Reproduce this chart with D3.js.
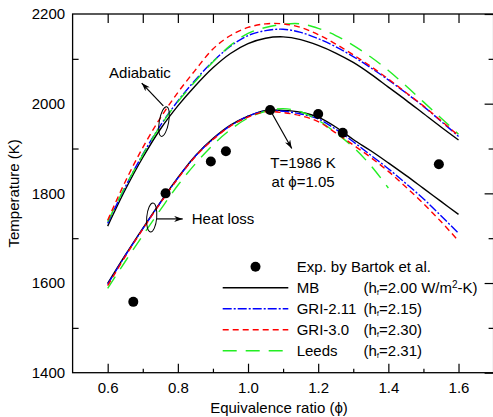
<!DOCTYPE html>
<html>
<head>
<meta charset="utf-8">
<script src="https://cdn.jsdelivr.net/npm/d3@7"></script>
<style>
  body { margin: 0; background: #fff; }
  svg { display: block; font-family: "Liberation Sans", Arial, sans-serif; }
</style>
</head>
<body>
<div id="chart"></div>
<script>
// equivalence ratio grid of the computed curves
var phi = [0.6, 0.65, 0.7, 0.75, 0.8, 0.85, 0.9, 0.95, 1.0, 1.05, 1.1, 1.15, 1.2, 1.25, 1.3, 1.35, 1.4, 1.45, 1.5, 1.55, 1.6];
var phiLeedsLoss = [0.6, 0.65, 0.7, 0.75, 0.8, 0.85, 0.9, 0.95, 1.0, 1.05, 1.1, 1.15, 1.2, 1.25, 1.3, 1.35, 1.4];

// adiabatic flame temperature (K)
var adiMB      = [1727, 1808, 1880, 1943, 1995, 2040, 2080, 2112, 2134, 2146, 2149, 2143, 2130, 2113, 2092, 2066, 2037, 2008, 1978, 1948, 1919];
var adiGRI211  = [1733, 1814, 1887, 1951, 2006, 2053, 2094, 2128, 2152, 2163, 2166, 2159, 2145, 2127, 2105, 2080, 2053, 2024, 1994, 1961, 1927];
var adiGRI30   = [1740, 1826, 1902, 1968, 2025, 2075, 2122, 2152, 2170, 2178, 2178, 2170, 2154, 2133, 2109, 2083, 2055, 2025, 1995, 1962, 1929];
var adiLeeds   = [1737, 1815, 1886, 1950, 2004, 2050, 2093, 2130, 2157, 2170, 2177, 2178, 2168, 2152, 2130, 2104, 2074, 2040, 2004, 1968, 1932];

// with heat loss (K)
var lossMB     = [1599, 1662, 1722, 1780, 1835, 1884, 1922, 1952, 1972, 1985, 1985, 1981, 1970, 1948, 1920, 1895, 1868, 1840, 1811, 1782, 1753];
var lossGRI211 = [1597, 1661, 1721, 1779, 1834, 1883, 1921, 1951, 1972, 1984, 1983, 1977, 1966, 1943, 1915, 1885, 1855, 1822, 1788, 1750, 1711];
var lossGRI30  = [1594, 1659, 1720, 1778, 1833, 1882, 1920, 1950, 1970, 1982, 1980, 1973, 1960, 1935, 1908, 1880, 1849, 1814, 1777, 1737, 1694];
var lossLeeds  = [1588, 1648, 1706, 1763, 1818, 1866, 1908, 1942, 1968, 1983, 1989, 1982, 1963, 1935, 1903, 1862, 1812];

// experiment (Bartok et al.)
var expPhi = [0.673, 0.765, 0.894, 0.937, 1.063, 1.200, 1.270, 1.544];
var expT   = [1558, 1800, 1871, 1894, 1986, 1977, 1935, 1865];

// ticks
var xMajor = [0.6, 0.8, 1.0, 1.2, 1.4, 1.6];
var xMinor = [0.7, 0.9, 1.1, 1.3, 1.5];
var xAll   = [0.6, 0.7, 0.8, 0.9, 1.0, 1.1, 1.2, 1.3, 1.4, 1.5, 1.6];
var yMajor = [1400, 1600, 1800, 2000, 2200];
var yMinor = [1500, 1700, 1900, 2100];

var series = [
  { name: "MB",       param: "=2.00 W/m", unit: true,  color: "#000000", dash: null,        adi: adiMB,     loss: lossMB,     lossPhi: phi },
  { name: "GRI-2.11", param: "=2.15",     unit: false, color: "#0000ff", dash: "9,2,2,2",   adi: adiGRI211, loss: lossGRI211, lossPhi: phi },
  { name: "GRI-3.0",  param: "=2.30",     unit: false, color: "#ff0000", dash: "6,4",       adi: adiGRI30,  loss: lossGRI30,  lossPhi: phi },
  { name: "Leeds",    param: "=2.31",     unit: false, color: "#22ee22", dash: "14,9",      adi: adiLeeds,  loss: lossLeeds,  lossPhi: phiLeedsLoss }
];

var width = 493, height = 417;

var svg = d3.select("#chart").append("svg")
  .attr("width", width)
  .attr("height", height);

var x = d3.scaleLinear().domain([0.5, 1.7]).range([72.6, 493.6]);
var y = d3.scaleLinear().domain([1400, 2200]).range([372.7, 14]);

var defs = svg.append("defs");
defs.append("marker")
  .attr("id", "head")
  .attr("viewBox", "0 0 10 7")
  .attr("refX", 10).attr("refY", 3.5)
  .attr("markerUnits", "userSpaceOnUse")
  .attr("markerWidth", 9).attr("markerHeight", 6)
  .attr("orient", "auto")
  .append("path")
  .attr("d", "M0,0 L10,3.5 L0,7 L3,3.5 z")
  .attr("fill", "#000");

// axes
function styleAxis(g) {
  g.select(".domain").remove();
  g.selectAll("line").attr("stroke", "#000").attr("stroke-width", 1.2);
  g.selectAll("text").attr("font-size", 15).attr("font-family", "Liberation Sans, Arial, sans-serif").attr("fill", "#000");
}

svg.append("g").attr("transform", "translate(0," + y(1400) + ")")
  .call(d3.axisBottom(x).tickValues(xMajor).tickSize(-9).tickPadding(9.5).tickFormat(d3.format(".1f")))
  .call(styleAxis);
svg.append("g").attr("transform", "translate(0," + y(1400) + ")")
  .call(d3.axisBottom(x).tickValues(xMinor).tickSize(-4).tickFormat(""))
  .call(styleAxis);
svg.append("g").attr("transform", "translate(0," + y(2200) + ")")
  .call(d3.axisTop(x).tickValues(xAll).tickSize(-9).tickFormat(""))
  .call(styleAxis);
svg.append("g").attr("transform", "translate(" + x(0.5) + ",0)")
  .call(d3.axisLeft(y).tickValues(yMajor).tickSize(0).tickPadding(7.5).tickFormat(d3.format("d")))
  .call(styleAxis);
svg.append("g").attr("transform", "translate(" + x(0.5) + ",0)")
  .call(d3.axisLeft(y).tickValues(yMinor).tickSize(-6).tickFormat(""))
  .call(styleAxis);
svg.append("g").attr("transform", "translate(" + x(1.7) + ",0)")
  .call(d3.axisRight(y).tickValues(yMajor).tickSize(-9).tickFormat(""))
  .call(styleAxis);
svg.append("g").attr("transform", "translate(" + x(1.7) + ",0)")
  .call(d3.axisRight(y).tickValues(yMinor).tickSize(-5).tickFormat(""))
  .call(styleAxis);

// frame
svg.append("rect")
  .attr("x", x(0.5)).attr("y", y(2200))
  .attr("width", x(1.7) - x(0.5)).attr("height", y(1400) - y(2200))
  .attr("fill", "none").attr("stroke", "#000").attr("stroke-width", 1.3);

// axis titles
svg.append("text")
  .attr("x", 279).attr("y", 413)
  .attr("text-anchor", "middle").attr("font-size", 15)
  .text("Equivalence ratio (\u03d5)");
svg.append("text")
  .attr("transform", "translate(19," + ((y(1400) + y(2200)) / 2) + ") rotate(-90)")
  .attr("text-anchor", "middle").attr("font-size", 15)
  .text("Temperature (K)");

// curves
var line = d3.line()
  .x((d) => x(d[0]))
  .y((d) => y(d[1]))
  .curve(d3.curveCatmullRom.alpha(0.5));

var order = [0, 1, 3, 2]; // draw green under red
order.forEach(function (k) {
  var s = series[k];
  [[phi, s.adi], [s.lossPhi, s.loss]].forEach(function (p) {
    svg.append("path")
      .datum(p[0].map((v, i) => [v, p[1][i]]))
      .attr("d", line)
      .attr("fill", "none")
      .attr("stroke", s.color)
      .attr("stroke-width", 1.4)
      .attr("stroke-dasharray", s.dash);
  });
});

// experiments
svg.selectAll("circle.exp")
  .data(expPhi)
  .enter()
  .append("circle")
  .attr("class", "exp")
  .attr("cx", (d) => x(d))
  .attr("cy", (d, i) => y(expT[i]))
  .attr("r", 5)
  .attr("fill", "#000");

// annotations
svg.append("ellipse")
  .attr("transform", "translate(" + x(0.7605) + "," + y(1960) + ") rotate(10)")
  .attr("rx", 4.7).attr("ry", 15)
  .attr("fill", "none").attr("stroke", "#000").attr("stroke-width", 1);
svg.append("line")
  .attr("x1", x(0.7586)).attr("y1", y(1995))
  .attr("x2", x(0.697)).attr("y2", y(2046))
  .attr("stroke", "#000").attr("stroke-width", 1.2)
  .attr("marker-end", "url(#head)");
svg.append("text")
  .attr("x", x(0.692)).attr("y", y(2070)).attr("dy", "0.35em")
  .attr("text-anchor", "middle").attr("font-size", 15)
  .text("Adiabatic");

svg.append("ellipse")
  .attr("transform", "translate(" + x(0.7255) + "," + y(1746) + ") rotate(5)")
  .attr("rx", 5).attr("ry", 14.5)
  .attr("fill", "none").attr("stroke", "#000").attr("stroke-width", 1);
svg.append("line")
  .attr("x1", x(0.7397)).attr("y1", y(1743))
  .attr("x2", x(0.8139)).attr("y2", y(1743))
  .attr("stroke", "#000").attr("stroke-width", 1.2)
  .attr("marker-end", "url(#head)");
svg.append("text")
  .attr("x", x(0.8395)).attr("y", y(1743)).attr("dy", "0.35em")
  .attr("font-size", 15)
  .text("Heat loss");

svg.append("line")
  .attr("x1", x(1.063)).attr("y1", y(1986))
  .attr("x2", x(1.1246)).attr("y2", y(1900))
  .attr("stroke", "#000").attr("stroke-width", 1.2)
  .attr("marker-end", "url(#head)");
svg.append("text")
  .attr("x", x(1.157)).attr("y", y(1869)).attr("dy", "0.35em")
  .attr("text-anchor", "middle").attr("font-size", 15)
  .text("T=1986 K");
svg.append("text")
  .attr("x", x(1.157)).attr("y", y(1826)).attr("dy", "0.35em")
  .attr("text-anchor", "middle").attr("font-size", 15)
  .text("at \u03d5=1.05");

// legend
var rowY = [266.7, 287.7, 308.7, 329.7, 350.7];
var lx0 = 222.7, lx1 = 288.3, tx = 296.7, px = 363.5;

svg.append("circle")
  .attr("cx", (lx0 + lx1) / 2).attr("cy", rowY[0]).attr("r", 5).attr("fill", "#000");
svg.append("text")
  .attr("x", tx).attr("y", rowY[0]).attr("dy", "0.35em").attr("font-size", 15)
  .text("Exp. by Bartok et al.");

series.forEach(function (s, i) {
  var yy = rowY[i + 1];
  svg.append("line")
    .attr("x1", lx0).attr("x2", lx1).attr("y1", yy).attr("y2", yy)
    .attr("stroke", s.color).attr("stroke-width", 1.4)
    .attr("stroke-dasharray", s.dash);
  svg.append("text")
    .attr("x", tx).attr("y", yy).attr("dy", "0.35em").attr("font-size", 15)
    .text(s.name);
  var t = svg.append("text")
    .attr("x", px).attr("y", yy).attr("dy", "0.35em").attr("font-size", 15);
  t.append("tspan").text("(h");
  t.append("tspan").attr("font-size", 8).attr("dy", 2).text("f");
  t.append("tspan").attr("dy", -2).text(s.param);
  if (s.unit) {
    t.append("tspan").attr("font-size", 10).attr("dy", -5).text("2");
    t.append("tspan").attr("dy", 5).text("-K)");
  } else {
    t.append("tspan").text(")");
  }
});
</script>
</body>
</html>
